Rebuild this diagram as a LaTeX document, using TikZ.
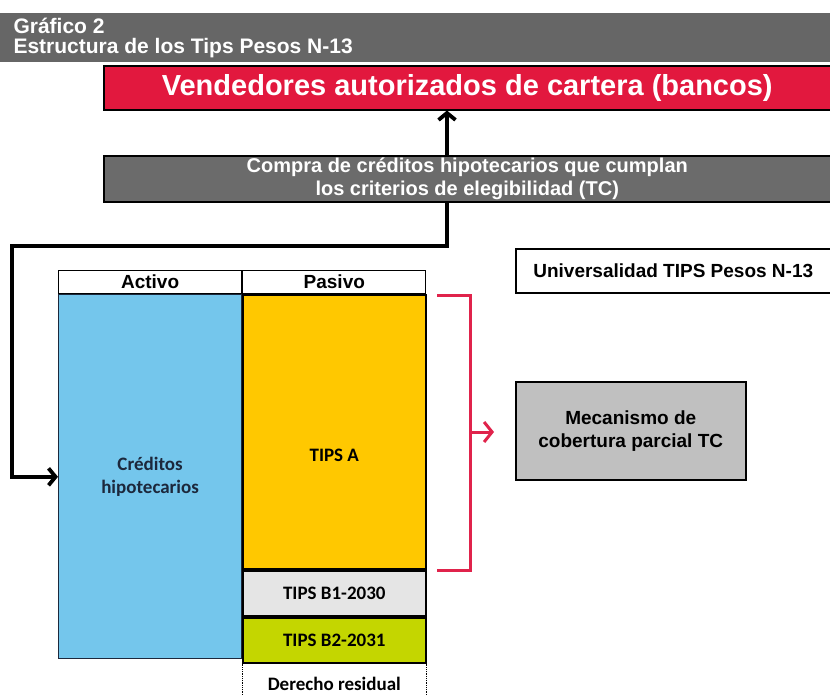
\documentclass[tikz,border=0pt]{standalone}
\usepackage{fontspec}
\setmainfont{Liberation Sans}
\newfontfamily\calfont{Carlito}
\usetikzlibrary{arrows.meta, positioning, calc}
\definecolor{headfill}{RGB}{102,102,102}
\definecolor{sellerfill}{RGB}{226,24,62}
\definecolor{buyfill}{RGB}{107,107,107}
\definecolor{assetfill}{RGB}{116,198,236}
\definecolor{seniorfill}{RGB}{255,200,0}
\definecolor{bonefill}{RGB}{229,229,229}
\definecolor{btwofill}{RGB}{196,214,0}
\definecolor{coverfill}{RGB}{192,192,192}
\definecolor{bracketred}{RGB}{224,35,75}
\definecolor{navytext}{RGB}{28,40,60}
\tikzset{
    block/.style={
        rectangle, draw=black, line width=1.5pt, inner sep=0pt,
        align=center, font=\bfseries\fontsize{19}{23}\selectfont
    },
    bannerblock/.style={
        block, text=white, minimum width=727, anchor=north west
    },
    cellblock/.style={
        block, line width=1.2pt, minimum width=183,
        font=\calfont\bfseries\fontsize{19}{23}\selectfont
    },
    headcell/.style={
        block, line width=1.2pt, minimum width=183, minimum height=23
    },
    connection/.style={draw=black, line width=3.8pt, -{Straight Barb[length=7pt, width=17pt]}},
    redline/.style={draw=bracketred, line width=3pt},
    titletext/.style={anchor=base west, text=white, font=\bfseries\fontsize{21}{25}\selectfont}
}

\begin{document}
\begin{tikzpicture}[x=1pt, y=-1pt, node distance=0pt]
\useasboundingbox (0,0) rectangle (830,696);

% Title bar
\node[fill=headfill, minimum width=830, minimum height=49, inner sep=0pt, anchor=north west] (head) at (0,13) {};
\node[titletext] (title) at (10,33) {Gráfico 2};
\node[titletext] (subtitle) at (10,53) {Estructura de los Tips Pesos N-13};

% Sellers and purchase
\node[bannerblock, fill=sellerfill, minimum height=44, font=\bfseries\fontsize{29}{34}\selectfont] (sellers) at (103,65) {Vendedores autorizados de cartera (bancos)};
\node[bannerblock, fill=buyfill, minimum height=46, font=\bfseries\fontsize{20}{23}\selectfont] (buy) at (103,155) {Compra de créditos hipotecarios que cumplan\\los criterios de elegibilidad (TC)};

% Universality label
\node[block, fill=white, minimum width=315, minimum height=44, anchor=north west] (univ) at (515,248) {Universalidad TIPS Pesos N-13};

% Balance sheet
\node[headcell, anchor=north west] (activohead) at (58,270) {Activo};
\node[headcell, right=of activohead] (pasivohead) {Pasivo};
\node[cellblock, fill=assetfill, draw=navytext, minimum height=364, below=of activohead, text=navytext] (credits) {Créditos\\hipotecarios};
\node[cellblock, fill=seniorfill, line width=1.8pt, minimum height=274, below=of pasivohead] (tipsa) {};
\node[cellblock, draw=none, yshift=-23pt] (tipsatext) at (tipsa.center) {TIPS A};
\node[cellblock, fill=bonefill, line width=1.8pt, minimum height=45, below=of tipsa] (bone) {TIPS B1-2030};
\node[cellblock, fill=btwofill, line width=1.8pt, minimum height=45, below=of bone] (btwo) {TIPS B2-2031};
\node[cellblock, draw=none, minimum height=39, below=of btwo] (residual) {Derecho residual};
\draw[densely dotted, line width=0.8pt] (residual.north west) -- (residual.south west);
\draw[densely dotted, line width=0.8pt] (residual.north east) -- (residual.south east);

% Partial coverage
\node[block, fill=coverfill, minimum width=230, minimum height=98, anchor=north west] (cover) at (515,381) {Mecanismo de\\cobertura parcial TC};

% Connections
\coordinate (trunk) at (447,0);
\coordinate (loop) at (12,246);
\draw[connection] (buy.north -| trunk) -- (sellers.south -| trunk);
\draw[connection] (buy.south -| trunk) |- (loop) |- (credits.west);

% Bracket
\coordinate (brtop) at (437,295);
\coordinate (brmid) at (470,432);
\coordinate (brbot) at (437,570);
\draw[redline] (brtop) -| (brmid) |- (brbot);
\draw[redline, -{Straight Barb[length=8pt, width=20pt]}, shorten >=21pt] (brmid) -- (brmid -| cover.west);

\end{tikzpicture}
\end{document}
